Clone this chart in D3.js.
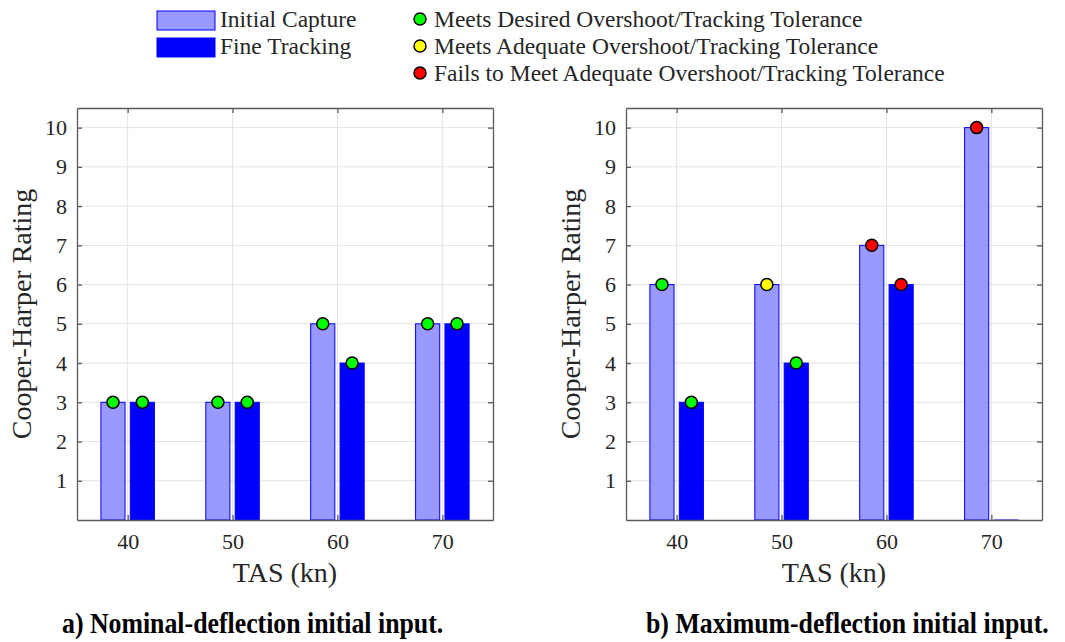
<!DOCTYPE html>
<html>
<head>
<meta charset="UTF-8">
<style>
body { margin: 0; background: #fff; }
.grid line { stroke: #e3e3e3; stroke-width: 1px; }
</style>
</head>
<body>
<svg width="1065" height="642"></svg>
<script src="https://cdn.jsdelivr.net/npm/d3@7"></script>
<script>
var speeds = [40, 50, 60, 70];
var yTicks = [1, 2, 3, 4, 5, 6, 7, 8, 9, 10];

// a) nominal deflection
var nomInitial = [3, 3, 5, 5];
var nomFine = [3, 3, 4, 5];
var nomInitialMark = ["g", "g", "g", "g"];
var nomFineMark = ["g", "g", "g", "g"];

// b) maximum deflection
var maxInitial = [6, 6, 7, 10];
var maxFine = [3, 4, 6, 0];
var maxInitialMark = ["g", "y", "r", "r"];
var maxFineMark = ["g", "g", "r", null];

var markColor = {g: "#00ff00", y: "#ffff00", r: "#ff0000"};
var legendMarks = [
  ["g", "Meets Desired Overshoot/Tracking Tolerance"],
  ["y", "Meets Adequate Overshoot/Tracking Tolerance"],
  ["r", "Fails to Meet Adequate Overshoot/Tracking Tolerance"]
];

var FONT = "'Liberation Serif', 'Times New Roman', serif";
var svg = d3.select("svg");

function txt(sel, size) {
  return sel.style("font-family", FONT).style("font-size", size + "px").attr("fill", "#262626");
}

function panel(left, initial, fine, initMark, fineMark, caption, capX) {
  var w = 416, h = 412, top = 108;
  var g = svg.append("g").attr("transform", "translate(" + left + "," + top + ")");
  var x = d3.scaleLinear().domain([35.17, 74.83]).range([0, w]);
  var y = d3.scaleLinear().domain([0, 10.5]).range([h, 0]);
  var off = 1.4, bw = 2.3;

  var grid = g.append("g").attr("class", "grid");
  grid.selectAll(".gy").data(yTicks).enter().append("line")
    .attr("x1", 0).attr("x2", w).attr("y1", d => y(d)).attr("y2", d => y(d));
  grid.selectAll(".gx").data(speeds).enter().append("line")
    .attr("y1", 0).attr("y2", h).attr("x1", d => x(d)).attr("x2", d => x(d));

  function bars(vals, dx, fill) {
    g.append("g").selectAll("rect").data(vals).enter().append("rect")
      .attr("x", (d, i) => x(speeds[i] + dx - bw / 2))
      .attr("width", (d, i) => x(speeds[i] + dx + bw / 2) - x(speeds[i] + dx - bw / 2))
      .attr("y", d => y(d)).attr("height", d => Math.max(h - y(d), 0.01))
      .attr("fill", fill).attr("stroke", "#0000ff").attr("stroke-width", 1);
  }
  bars(initial, -off, "#9999ff");
  bars(fine, off, "#0000ff");

  // axes box, ticks inside
  var yl = d3.axisLeft(y).tickValues(yTicks).tickSizeInner(-5).tickSizeOuter(0).tickPadding(10);
  var yr = d3.axisRight(y).tickValues(yTicks).tickSizeInner(-5).tickSizeOuter(0).tickFormat("");
  var xb = d3.axisBottom(x).tickValues(speeds).tickSizeInner(-5).tickSizeOuter(0).tickPadding(13);
  var xt = d3.axisTop(x).tickValues(speeds).tickSizeInner(-5).tickSizeOuter(0).tickFormat("");
  [[yl, "translate(0,0)"], [yr, "translate(" + w + ",0)"], [xb, "translate(0," + h + ")"], [xt, "translate(0,0)"]]
    .forEach(function (a) {
      var ax = g.append("g").attr("transform", a[1]).call(a[0]);
      ax.selectAll("path, line").attr("stroke", "#5a5a5a").attr("stroke-width", 1.3);
      txt(ax.selectAll("text"), 22);
    });

  function marks(vals, cols, dx) {
    var pts = vals.map((d, i) => ({v: d, s: speeds[i], c: cols[i]})).filter(p => p.c);
    g.append("g").selectAll("circle").data(pts).enter().append("circle")
      .attr("cx", p => x(p.s + dx)).attr("cy", p => y(p.v)).attr("r", 6)
      .attr("fill", p => markColor[p.c]).attr("stroke", "#000").attr("stroke-width", 1.5);
  }
  marks(initial, initMark, -off);
  marks(fine, fineMark, off);

  txt(g.append("text"), 28).attr("transform", "translate(-46," + (h / 2) + ") rotate(-90)")
    .attr("text-anchor", "middle").text("Cooper-Harper Rating");
  txt(g.append("text"), 28).attr("x", w / 2).attr("y", h + 62)
    .attr("text-anchor", "middle").text("TAS (kn)");

  // caption: tall, horizontally condensed bold serif
  txt(svg.append("text"), 29).attr("fill", "#000").style("font-weight", "bold")
    .attr("transform", "translate(" + capX + ",633) scale(0.89,1)").text(caption);
}

panel(77, nomInitial, nomFine, nomInitialMark, nomFineMark, "a) Nominal-deflection initial input.", 62);
panel(626, maxInitial, maxFine, maxInitialMark, maxFineMark, "b) Maximum-deflection initial input.", 646);

// legend
var leg = svg.append("g");
leg.append("rect").attr("x", 157).attr("y", 11).attr("width", 58).attr("height", 19)
  .attr("fill", "#9999ff").attr("stroke", "#0000ff");
leg.append("rect").attr("x", 157).attr("y", 38).attr("width", 58).attr("height", 19)
  .attr("fill", "#0000ff").attr("stroke", "#0000ff");
txt(leg.append("text"), 23.5).attr("x", 220).attr("y", 27).text("Initial Capture");
txt(leg.append("text"), 23.5).attr("x", 220).attr("y", 54).text("Fine Tracking");
legendMarks.forEach(function (m, i) {
  leg.append("circle").attr("cx", 420).attr("cy", 19 + i * 27).attr("r", 6)
    .attr("fill", markColor[m[0]]).attr("stroke", "#000").attr("stroke-width", 1.5);
  txt(leg.append("text"), 23.5).attr("x", 434).attr("y", 27 + i * 27).text(m[1]);
});
</script>
</body>
</html>
